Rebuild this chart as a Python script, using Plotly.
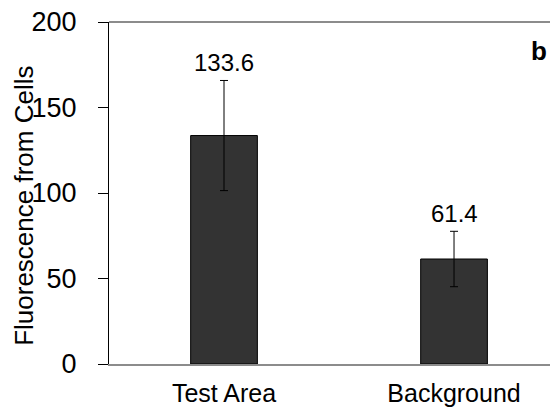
"""Bar chart: fluorescence from cells, test area vs background."""

import plotly.graph_objects as go

CATEGORIES = ["Test Area", "Background"]
MEANS = [133.6, 61.4]
ERRORS = [32.2, 16.2]
Y_TICKS = [0, 50, 100, 150, 200]

FONT = "Liberation Sans, Arial, sans-serif"

fig = go.Figure()

fig.add_trace(
    go.Bar(
        x=CATEGORIES,
        y=MEANS,
        width=0.29,
        marker={"color": "#333333", "line": {"color": "#000000", "width": 1}},
        error_y={
            "type": "data",
            "array": ERRORS,
            "visible": True,
            "color": "#000000",
            "thickness": 1,
            "width": 4,
        },
        showlegend=False,
    )
)

# value labels sitting above the error bars
for cat, m, e in zip(CATEGORIES, MEANS, ERRORS):
    fig.add_annotation(
        x=cat,
        y=m + e,
        text=f"{m:.1f}",
        showarrow=False,
        yanchor="bottom",
        yshift=2,
        font={"size": 24, "color": "#000000"},
    )

fig.add_annotation(
    xref="paper",
    yref="paper",
    x=-0.19,
    y=0.4615,
    xanchor="center",
    yanchor="middle",
    text="Fluorescence from Cells",
    textangle=-90,
    showarrow=False,
    font={"size": 26, "color": "#000000"},
)

fig.add_annotation(
    xref="paper",
    yref="paper",
    x=0.958,
    y=0.914,
    xanchor="center",
    yanchor="middle",
    text="<b>b</b>",
    showarrow=False,
    font={"size": 26, "color": "#000000"},
)

# top border of the plot area
fig.add_shape(
    type="line",
    xref="paper",
    yref="paper",
    x0=0,
    x1=1,
    y0=1,
    y1=1,
    line={"color": "#8c8c8c", "width": 2},
    layer="above",
)

# page body adds an 8px margin, so the figure is trimmed by that much
fig.update_layout(
    width=550,
    height=406,
    margin={"l": 101, "r": 0, "t": 14, "b": 50},
    paper_bgcolor="white",
    plot_bgcolor="white",
    font={"family": FONT, "size": 24, "color": "#000000"},
    xaxis={
        "range": [-0.5, 1.452],
        "automargin": False,
        "showline": True,
        "linecolor": "#8c8c8c",
        "linewidth": 2,
        "ticks": "",
        "ticklabelstandoff": 6,
        "showgrid": False,
        "tickfont": {"size": 25},
    },
    yaxis={
        "range": [0, 200],
        "automargin": False,
        "tickvals": Y_TICKS,
        "showline": True,
        "linecolor": "#000000",
        "linewidth": 1,
        "ticks": "outside",
        "ticklen": 10,
        "tickcolor": "#000000",
        "ticklabelstandoff": 16,
        "ticklabeloverflow": "allow",
        "showgrid": False,
        "zeroline": False,
        "tickfont": {"size": 27},
    },
)

fig.write_html("out.html")
